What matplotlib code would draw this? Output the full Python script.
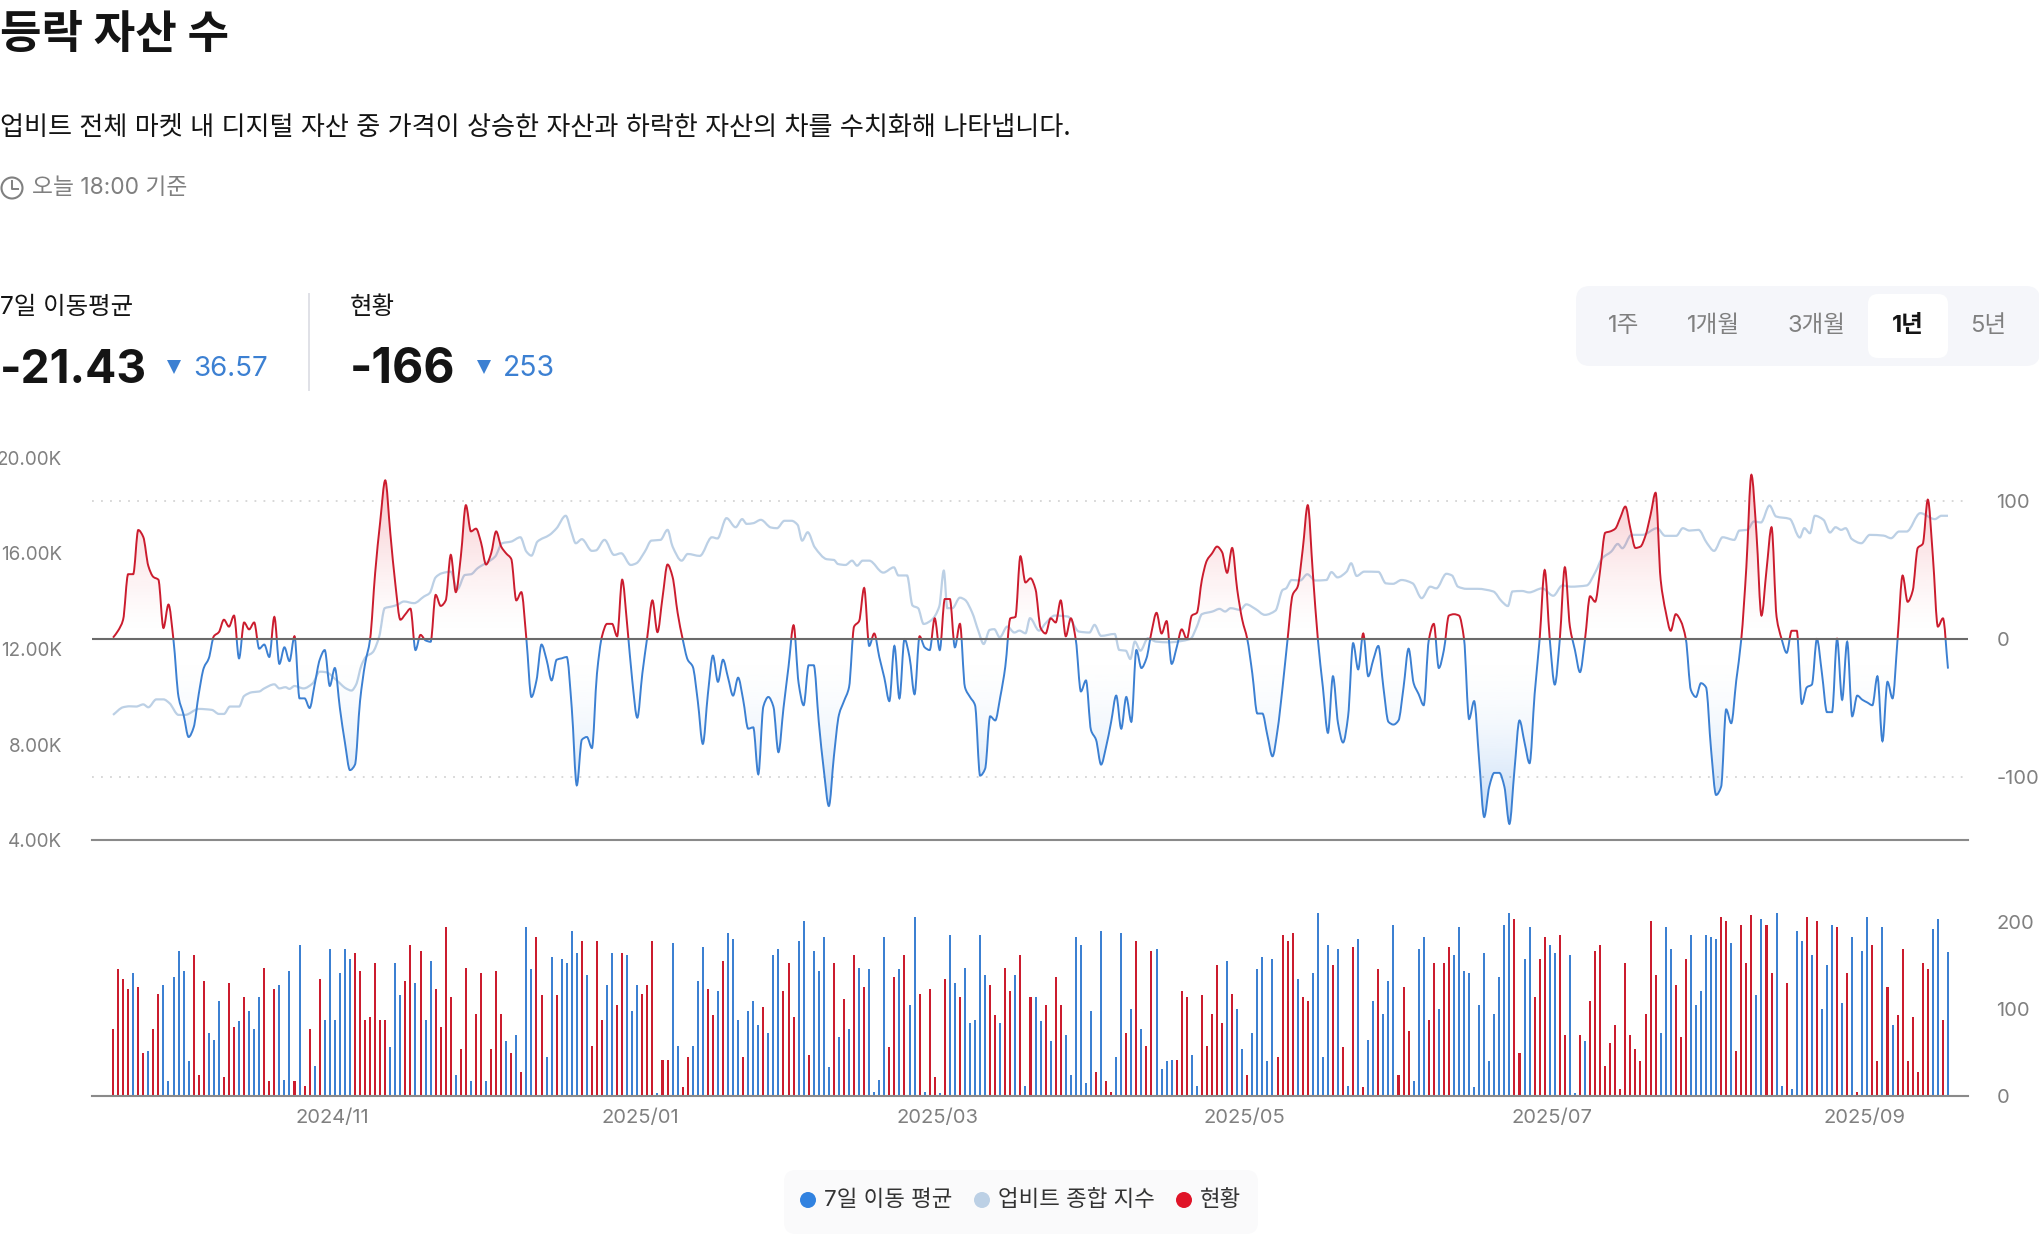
import matplotlib

matplotlib.use("Agg")

import matplotlib.dates as mdates
import matplotlib.pyplot as plt
import numpy as np
import pandas as pd
from matplotlib.patches import FancyBboxPatch, PathPatch, Rectangle, Circle
from matplotlib.path import Path
from matplotlib.ticker import FuncFormatter

plt.rcParams["font.family"] = ["Inter", "Noto Sans CJK KR"]
plt.rcParams["axes.unicode_minus"] = False

# daily 7-day average of advancers minus decliners (right axis)
MA_VALUES = [
    1, 6, 14, 47, 47, 79, 74, 53, 45, 43,
    8, 25, -1, -42, -55, -71, -64, -40, -21, -14,
    2, 5, 14, 9, 17, -14, 12, 7, 12, -7,
    -4, -13, 16, -18, -6, -16, 2, -43, -43, -50,
    -33, -15, -8, -34, -21, -50, -75, -95, -91, -45,
    -18, 0, 48, 85, 115, 77, 40, 14, 18, 22,
    -8, 3, -1, -2, 32, 24, 28, 61, 34, 60,
    97, 78, 80, 70, 54, 62, 78, 67, 62, 58,
    28, 34, 0, -42, -30, -4, -15, -30, -15, -14,
    -13, -50, -106, -73, -71, -79, -25, 2, 11, 11,
    2, 43, 10, -30, -57, -25, 2, 28, 5, 30,
    54, 45, 19, 0, -15, -20, -45, -76, -40, -12,
    -31, -15, -28, -41, -28, -44, -65, -64, -98, -49,
    -42, -49, -82, -50, -20, 10, -32, -48, -19, -19,
    -60, -95, -121, -85, -55, -45, -35, 9, 13, 37,
    -5, 4, -13, -28, -45, -5, -43, 0, -13, -40,
    2, -6, -8, 15, -8, 29, 29, -6, 11, -35,
    -42, -48, -99, -94, -56, -59, -42, -20, 15, 16,
    60, 41, 44, 36, 8, 4, 15, 12, 28, 2,
    15, -1, -38, -30, -66, -73, -91, -78, -60, -41,
    -65, -42, -60, -8, -21, -14, 5, 19, 4, 13,
    -18, -6, 7, 0, 17, 19, 43, 57, 62, 67,
    63, 48, 66, 36, 14, 0, -25, -54, -54, -70,
    -85, -66, -35, 0, 32, 38, 65, 97, 48, 0,
    -35, -68, -27, -61, -75, -56, -3, -22, 4, -27,
    -15, -5, -35, -60, -62, -59, -35, -7, -32, -40,
    -48, -1, 11, -21, -8, 17, 18, 17, 0, -58,
    -45, -88, -129, -107, -97, -97, -107, -134, -95, -59,
    -75, -90, -40, 0, 50, 0, -33, 0, 52, 9,
    -8, -24, 0, 31, 27, 50, 77, 78, 80, 88,
    96, 80, 66, 67, 75, 90, 106, 43, 20, 6,
    18, 13, 0, -37, -42, -32, -35, -80, -113, -107,
    -51, -61, -30, 0, 52, 119, 77, 17, 50, 81,
    16, 0, -10, 6, 6, -47, -35, -33, 0, -25,
    -53, -53, 0, -44, -2, -56, -41, -44, -46, -48,
    -27, -74, -31, -43, 0, 46, 27, 35, 66, 69,
    101, 60, 9, 15, -21.43,
]

# daily advancers minus decliners, bars are drawn by size and coloured by sign
STATUS_VALUES = [
    77, 146, 135, 123, -142, 125, 49, -52, 77, 118,
    -128, -17, -137, -167, -144, -40, 162, 24, 132, -72,
    -65, -109, 22, 130, 79, -86, 114, -98, -77, -114,
    148, 17, 123, -128, -19, -144, 17, -174, 12, 77,
    -35, 135, -88, -169, -88, -142, -169, -158, 165, 144,
    88, 91, 153, 88, 88, -56, -153, -116, 132, 174,
    -130, 167, -88, -155, 123, 79, 195, 114, -24, 54,
    148, -17, 95, 142, -17, 54, 144, 95, -63, 49,
    -70, 28, -195, -146, 183, 116, -45, -160, 116, -158,
    -153, -190, -165, 178, -139, 58, 178, 88, -128, -165,
    105, 165, -162, -98, -128, 118, 128, 178, -3, 42,
    42, -176, -58, 10, 45, -58, -132, -172, 123, 93,
    -121, 155, -188, -181, -88, 45, -98, -109, -82, 102,
    -72, -162, -169, 121, 153, 91, -178, -202, 47, -167,
    -144, -183, -33, 153, -68, 112, -77, 162, -148, 125,
    -146, -5, -19, -183, 56, 137, -146, 162, -105, -206,
    118, -5, 123, 22, -3, 135, -185, -130, 114, -148,
    -84, -88, -185, -139, 128, 93, -84, 148, 121, -139,
    162, -12, 114, -114, -86, 105, -63, 137, 105, -70,
    -24, -183, -174, -15, -98, 28, -190, 17, 5, -45,
    -188, 72, -100, 178, -77, 58, 167, -169, -31, -40,
    -42, 42, 121, 114, -47, -12, 116, 58, 95, 151,
    84, -155, 118, -100, -54, 24, -72, -146, -160, -40,
    -158, 45, 185, 178, 188, -135, 114, 109, -142, -211,
    -45, -174, 151, -169, 56, -12, 172, -181, 10, -65,
    -109, 146, -95, -132, -197, 24, 125, 75, -17, -169,
    -183, 88, 153, -100, 153, 172, -162, -195, -144, -142,
    -10, -105, -165, -40, -95, -137, -197, -211, 204, 49,
    -158, -195, 114, 158, 183, -174, -165, 185, 70, -162,
    -3, 70, -63, 109, 167, 174, 35, 61, 82, 8,
    153, 70, 54, 40, 95, 202, 139, -72, -195, -169,
    128, 68, 158, -185, -105, -121, -185, -183, -181, 206,
    202, -176, 52, 197, 153, 208, -116, -204, 197, 142,
    -211, -12, 130, -8, -190, -178, 206, -162, 202, -100,
    -151, -197, 195, -107, 142, -183, 5, -167, -206, 174,
    40, -195, 125, -82, 93, 169, 40, 91, 28, 153,
    146, -192, -204, 88, -166,
]

# Upbit composite index (left axis, thousands), read at its turning points
INDEX_DAYS = [
    0, 2, 3.3, 4.6, 6, 7, 8.6, 10, 11.2, 13, 14.3, 17, 19.6, 21, 22, 23.2, 25, 26, 27.6, 29,
    30, 32, 33, 34.2, 35, 36, 37.8, 39.6, 41, 42.2, 44.4, 46.2, 47.3, 48.2, 49.3, 50.2, 51.5, 52.8, 53.9, 55.3,
    56.4, 57.7, 59.7, 61.7, 62.8, 64, 65.2, 67, 68.3, 69.8, 71, 72.3, 75.8, 77.2, 79, 80.8, 82, 83, 84.2, 86.6,
    88, 89.8, 90.9, 91.8, 93, 95, 95.8, 97.5, 99.4, 100.8, 102.7, 103.8, 105.5, 106.8, 108.6, 110, 111, 112.8, 114, 116.4,
    118.8, 119.9, 121.7, 123.5, 124.8, 125.7, 127, 128.5, 130.5, 131.7, 133.2, 134.6, 135.8, 136.7, 137.8, 139.2, 141.6, 143, 143.8, 145.3,
    146.6, 147.6, 148.7, 150, 152.8, 154.9, 155.8, 157.5, 158.6, 159.7, 160.8, 162.4, 163.9, 164.8, 165.5, 166.5, 168, 169, 170.4, 171.7,
    172.7, 173.9, 174.8, 175.9, 177.4, 178.8, 179.8, 181, 181.9, 183.7, 185, 186.8, 189.4, 191.6, 193.7, 194.7, 196, 198.7, 199.6, 200.9,
    201.8, 202.7, 203.8, 205.3, 206.9, 209.4, 213.7, 215, 216, 218.1, 219.5, 220.6, 221.7, 223.6, 224.8, 226.6, 228.5, 230.6, 232, 232.7,
    233.8, 235.5, 236.9, 238.5, 240.7, 241.7, 242.9, 244.7, 245.6, 246.7, 248.2, 251, 252.5, 253.9, 255.6, 257.8, 259.6, 261.3, 262.5, 264.5,
    265.6, 266.8, 268.5, 270.7, 273.8, 275.5, 276.7, 277.6, 279.5, 280.9, 283.5, 285.7, 287.5, 289.2, 292.3, 294.1, 295.4, 297.2, 298.5, 299.4,
    301.2, 303.4, 306.3, 307.9, 310.1, 311.4, 312.7, 314.5, 316.2, 317.6, 319.3, 321.6, 322.6, 324.2, 325.5, 326.9, 328.6, 329.9, 332.6, 334.6,
    335.5, 336.6, 337.6, 339.3, 340.6, 341.7, 342.8, 343.7, 344.9, 346.8, 348.5, 351.2, 352.7, 354.3, 355.8, 358.5, 361.4, 362.7, 364,
]
INDEX_VALUES = [
    9.24, 9.56, 9.6, 9.59, 9.68, 9.56, 9.89, 9.89, 9.73, 9.24, 9.24, 9.49, 9.45, 9.28, 9.28, 9.59, 9.59, 10.03, 10.19, 10.22,
    10.35, 10.52, 10.35, 10.4, 10.33, 10.45, 10.35, 10.56, 11.05, 11.03, 10.68, 10.35, 10.26, 10.5, 11.33, 11.68, 11.86, 12.52, 13.71, 13.78,
    13.85, 13.99, 13.92, 14.2, 14.34, 15.0, 15.17, 15.24, 14.5, 15.1, 15.13, 15.38, 15.87, 16.43, 16.5, 16.68, 16.08, 15.91, 16.5, 16.78,
    17.06, 17.58, 16.92, 16.43, 16.6, 16.11, 16.13, 16.57, 15.94, 16.01, 15.52, 15.59, 16.08, 16.54, 16.57, 16.99, 16.29, 15.7, 15.98, 15.9,
    16.68, 16.63, 17.48, 17.1, 17.44, 17.24, 17.27, 17.41, 17.09, 17.06, 17.37, 17.37, 17.2, 16.54, 16.89, 16.26, 15.76, 15.73, 15.56, 15.52,
    15.7, 15.49, 15.7, 15.7, 15.2, 15.42, 15.08, 15.08, 13.82, 13.71, 13.05, 13.22, 13.78, 15.28, 13.71, 13.71, 14.15, 14.06, 13.54, 12.73,
    12.21, 12.8, 12.83, 12.49, 12.94, 12.69, 12.77, 12.66, 13.29, 12.77, 13.08, 13.4, 13.36, 12.73, 12.69, 13.01, 12.55, 12.63, 11.96, 11.93,
    11.58, 12.31, 11.93, 12.45, 12.31, 12.28, 12.42, 12.94, 13.46, 13.57, 13.68, 13.57, 13.71, 13.64, 13.87, 13.68, 13.43, 13.61, 14.47, 14.54,
    14.89, 14.87, 15.13, 14.87, 14.89, 15.22, 15.0, 15.24, 15.59, 15.06, 15.24, 15.23, 14.75, 14.73, 14.89, 14.75, 14.13, 14.61, 14.54, 15.15,
    15.08, 14.61, 14.52, 14.52, 14.41, 13.99, 13.8, 14.41, 14.43, 14.37, 14.54, 14.23, 14.66, 14.61, 14.66, 15.24, 15.8, 16.08, 16.4, 16.22,
    16.78, 16.78, 17.06, 16.74, 16.74, 17.06, 16.96, 16.99, 16.43, 16.11, 16.68, 16.57, 16.96, 16.99, 17.34, 17.3, 18.01, 17.55, 17.45, 16.67,
    17.06, 16.85, 17.58, 17.41, 16.88, 17.1, 16.99, 17.06, 16.61, 16.43, 16.78, 16.75, 16.64, 16.92, 16.92, 17.69, 17.44, 17.58, 17.58,
]

START_DATE = "2024-09-19"
MONTH_TICKS = ["2024-11-01 12:00", "2025-01-01 12:00", "2025-03-01 12:00", "2025-05-01 12:00", "2025-07-01 12:00", "2025-09-01 12:00"]
LEFT_TICKS = [4, 8, 12, 16, 20]
RIGHT_TICKS = [-100, 0, 100]
BAR_TICKS = [0, 100, 200]
RANGE_TABS = ["1주", "1개월", "3개월", "1년", "5년"]

RED = "#cb1c2e"
BLUE = "#3c80d2"
INDEX_COLOR = "#bcd0e5"
GRAY = "#808080"
INK = "#141414"
W, H = 2040, 1234


def curve_path(xs, ys):
    # monotone cubic through the readings, written as bezier segments
    xs = np.asarray(xs, dtype=float)
    ys = np.asarray(ys, dtype=float)
    dx = np.diff(xs)
    sec = np.diff(ys) / dx
    m = np.zeros(len(xs))
    same = sec[:-1] * sec[1:] > 0
    m[1:-1][same] = 2 * sec[:-1][same] * sec[1:][same] / (sec[:-1][same] + sec[1:][same])
    m[0], m[-1] = sec[0], sec[-1]
    verts = [(xs[0], ys[0])]
    codes = [Path.MOVETO]
    for i in range(len(dx)):
        h = dx[i] / 3
        verts += [(xs[i] + h, ys[i] + m[i] * h), (xs[i + 1] - h, ys[i + 1] - m[i + 1] * h), (xs[i + 1], ys[i + 1])]
        codes += [Path.CURVE4] * 3
    return verts, codes


def add_gradient(axis, color, x0, x1, y0, y1, clip, max_alpha, power):
    grad = np.zeros((128, 1, 4))
    grad[..., :3] = matplotlib.colors.to_rgb(color)
    grad[:, 0, 3] = max_alpha * np.linspace(0, 1, 128) ** power
    image = axis.imshow(grad, extent=(x0, x1, y0, y1), origin="lower", aspect="auto", interpolation="bilinear", zorder=1)
    image.set_clip_path(clip, transform=axis.transData)


def px_axes(fig, left, top, right, bottom):
    return fig.add_axes([left / W, 1 - bottom / H, (right - left) / W, (bottom - top) / H])


def rounded(axis, x0, y0, x1, y1, radius, color):
    axis.add_patch(FancyBboxPatch((x0, y0), x1 - x0, y1 - y0, boxstyle=f"round,pad=0,rounding_size={radius}",
                                  facecolor=color, edgecolor="none"))


def draw_header(ui):
    ui.text(0, 48, "등락 자산 수", fontsize=32.5, fontweight="bold", color=INK)
    ui.text(0, 135, "업비트 전체 마켓 내 디지털 자산 중 가격이 상승한 자산과 하락한 자산의 차를 수치화해 나타냅니다.",
            fontsize=18.8, color=INK)

    ui.add_patch(Circle((12, 188), 10.5, facecolor="none", edgecolor=GRAY, linewidth=1.5))
    ui.plot([12, 12, 18], [181, 189, 189], color=GRAY, linewidth=1.4)
    ui.text(32, 194, "오늘 18:00 기준", fontsize=16.4, color=GRAY)

    ui.text(0, 314, "7일 이동평균", fontsize=17.6, color=INK)
    ui.text(350, 314, "현황", fontsize=17.6, color=INK)
    ui.plot([309, 309], [294, 390], color="#e0e1e7", linewidth=1.4)

    ui.text(0, 383, "-21.43", fontsize=33.3, fontweight="bold", color=INK)
    ui.text(350, 383, "-166", fontsize=34.6, fontweight="bold", color=INK)
    ui.plot([174, 484], [367, 367], linestyle="none", marker="v", markersize=9.5, color=BLUE, markeredgewidth=0)
    ui.text(193.5, 376, "36.57", fontsize=20, color=BLUE)
    ui.text(503, 376, "253", fontsize=20.4, color=BLUE)

    rounded(ui, 1576, 286, 2040, 366, 14, "#f5f6fa")
    rounded(ui, 1868, 294, 1948, 358, 10, "#ffffff")
    for label, x in zip(RANGE_TABS, [1624, 1714, 1817, 1908, 1988]):
        active = label == "1년"
        ui.text(x, 332, label, ha="center", fontsize=17, color=INK if active else GRAY,
                fontweight="bold" if active else "normal")


def draw_legend(ui):
    rounded(ui, 784, 1170, 1258, 1234, 12, "#fafafb")
    items = [("7일 이동 평균", "#3182e0", 808), ("업비트 종합 지수", INDEX_COLOR, 982), ("현황", "#e01428", 1184)]
    for label, color, x in items:
        ui.add_patch(Circle((x, 1200), 8, facecolor=color, edgecolor="none"))
        ui.text(x + 16, 1206.5, label, fontsize=16.1, color="#333333")


def main():
    fig = plt.figure(figsize=(W / 100, H / 100), dpi=100)

    ui = fig.add_axes([0, 0, 1, 1], zorder=0)
    ui.set_xlim(0, W)
    ui.set_ylim(H, 0)
    ui.axis("off")
    draw_header(ui)
    draw_legend(ui)

    dates = pd.date_range(START_DATE, periods=len(STATUS_VALUES), freq="D")
    x = mdates.date2num(dates)
    ma = np.array(MA_VALUES, dtype=float)
    status = np.array(STATUS_VALUES, dtype=float)
    xlim = (x[0] - 4.17, x[-1] + 3.97)

    # main panel: right axis carries the average, twin on the left carries the index
    main_ax = px_axes(fig, 92, 458, 1968, 840)
    index_ax = main_ax.twinx()
    main_ax.set_zorder(3)
    index_ax.set_zorder(2)
    main_ax.patch.set_visible(False)
    index_ax.patch.set_visible(False)

    ylim = (-145.65, 131.2)
    verts, codes = curve_path(x, ma)
    line_path = Path(verts, codes)
    area_path = Path(verts + [(x[-1], 0), (x[0], 0), (x[0], 0)], codes + [Path.LINETO, Path.LINETO, Path.CLOSEPOLY])

    add_gradient(main_ax, "#e01428", x[0], x[-1], 0, ylim[1], area_path, 0.30, 1.5)
    add_gradient(main_ax, "#2f80e0", x[0], x[-1], 0, ylim[0], area_path, 0.38, 2.2)

    for color, y0, y1 in [(RED, 0, ylim[1]), (BLUE, ylim[0], 0)]:
        patch = PathPatch(line_path, facecolor="none", edgecolor=color, linewidth=1.4, zorder=3)
        main_ax.add_patch(patch)
        patch.set_clip_path(Rectangle((xlim[0], y0), xlim[1] - xlim[0], y1 - y0, transform=main_ax.transData))

    main_ax.axhline(0, color="#6a6a6a", linewidth=1.5, zorder=4)
    for level in (-100, 100):
        main_ax.axhline(level, color="#d4d4d4", linewidth=1.3, linestyle=(0, (1, 4)), zorder=0)

    main_ax.set_xlim(*xlim)
    main_ax.set_ylim(*ylim)
    main_ax.yaxis.tick_right()
    main_ax.set_yticks(RIGHT_TICKS)
    main_ax.tick_params(axis="y", length=0, pad=20.5, labelsize=14.5, labelcolor=GRAY)
    main_ax.set_xticks([])
    for side in ("top", "left", "right"):
        main_ax.spines[side].set_visible(False)
        index_ax.spines[side].set_visible(False)
    main_ax.spines["bottom"].set_color("#8a8a8a")
    main_ax.spines["bottom"].set_linewidth(1.5)
    index_ax.spines["bottom"].set_visible(False)

    index_days = x[0] + np.array(INDEX_DAYS)
    iv, ic = curve_path(index_days, INDEX_VALUES)
    index_ax.add_patch(PathPatch(Path(iv, ic), facecolor="none", edgecolor=INDEX_COLOR, linewidth=1.6))
    index_ax.set_ylim(4, 20)
    index_ax.yaxis.tick_left()
    index_ax.set_yticks(LEFT_TICKS)
    index_ax.yaxis.set_major_formatter(FuncFormatter(lambda v, _: f"{v:.2f}K"))
    index_ax.tick_params(axis="y", length=0, pad=21.5, labelsize=13.6, labelcolor=GRAY)

    # lower panel: size of the daily reading, coloured by its sign
    bar_ax = px_axes(fig, 92, 905, 1968, 1096)
    bar_colors = [RED if v > 0 else BLUE for v in status]
    bar_ax.bar(x, np.abs(status), width=0.4, color=bar_colors, linewidth=0, antialiased=False)
    bar_ax.set_xlim(*xlim)
    bar_ax.set_ylim(0, 220)
    bar_ax.yaxis.tick_right()
    bar_ax.set_yticks(BAR_TICKS)
    bar_ax.tick_params(axis="y", length=0, pad=20.5, labelsize=14.5, labelcolor=GRAY)
    bar_ax.set_xticks(mdates.date2num(pd.to_datetime(MONTH_TICKS)))
    bar_ax.xaxis.set_major_formatter(mdates.DateFormatter("%Y/%m"))
    bar_ax.tick_params(axis="x", length=0, pad=9.5, labelsize=14.5, labelcolor=GRAY)
    for side in ("top", "left", "right"):
        bar_ax.spines[side].set_visible(False)
    bar_ax.spines["bottom"].set_color("#8a8a8a")
    bar_ax.spines["bottom"].set_linewidth(1.5)
    bar_ax.patch.set_visible(False)

    fig.savefig("out.png", dpi=100, facecolor="white")
    plt.close(fig)


if __name__ == "__main__":
    main()
